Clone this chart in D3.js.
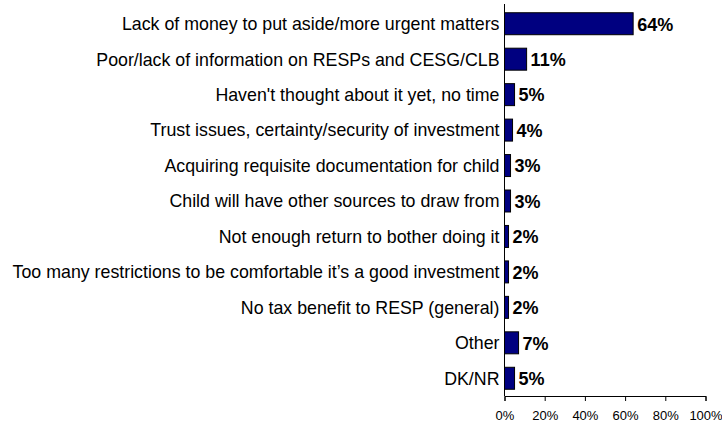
<!DOCTYPE html>
<html>
<head>
<meta charset="utf-8">
<script src="https://cdn.jsdelivr.net/npm/d3@7"></script>
<style>
  html, body { margin: 0; padding: 0; background: #fff; }
  svg { display: block; }
</style>
</head>
<body>
<svg id="chart" width="722" height="424"></svg>
<script>
// Reasons for not saving in an RESP (share of respondents)
const categories = [
  "Lack of money to put aside/more urgent matters",
  "Poor/lack of information on RESPs and CESG/CLB",
  "Haven't thought about it yet, no time",
  "Trust issues, certainty/security of investment",
  "Acquiring requisite documentation for child",
  "Child will have other sources to draw from",
  "Not enough return to bother doing it",
  "Too many restrictions to be comfortable it\u2019s a good investment",
  "No tax benefit to RESP (general)",
  "Other",
  "DK/NR"
];
const values = [64, 11, 5, 4, 3, 3, 2, 2, 2, 7, 5];
const tickValues = [0, 20, 40, 60, 80, 100];

const svg = d3.select("#chart");
const x0 = 504.5, x1 = 705.5, yTop = 5, yBottom = 396;

const x = d3.scaleLinear().domain([0, 100]).range([x0, x1]);
const y = d3.scaleBand().domain(categories).range([yTop + 1, yBottom])
  .paddingInner(0.38).paddingOuter(0.19);

// bars
svg.append("g").selectAll("rect")
  .data(categories)
  .join("rect")
  .attr("x", x(0))
  .attr("y", d => y(d))
  .attr("width", (d, i) => x(values[i]) - x(0))
  .attr("height", y.bandwidth())
  .attr("fill", "#000080")
  .attr("stroke", "#000000")
  .attr("stroke-width", 1);

// value labels
svg.append("g").selectAll("text")
  .data(categories)
  .join("text")
  .attr("x", (d, i) => x(values[i]) + 4)
  .attr("y", d => y(d) + y.bandwidth() / 2)
  .attr("dy", "0.38em")
  .attr("font-family", "Liberation Sans, Arial, sans-serif")
  .attr("font-weight", "bold")
  .attr("font-size", 18)
  .attr("fill", "#000")
  .text((d, i) => values[i] + "%");

// category labels
svg.append("g").selectAll("text")
  .data(categories)
  .join("text")
  .attr("x", x0 - 5)
  .attr("y", d => y(d) + y.bandwidth() / 2)
  .attr("dy", "0.36em")
  .attr("text-anchor", "end")
  .attr("font-family", "Liberation Sans, Arial, sans-serif")
  .attr("font-size", 17.8)
  .attr("fill", "#000")
  .text(d => d);

// vertical category axis line
svg.append("line")
  .attr("x1", x0).attr("x2", x0)
  .attr("y1", yTop - 1).attr("y2", yBottom)
  .attr("stroke", "#000").attr("stroke-width", 1);

// bottom value axis
const xAxis = d3.axisBottom(x)
  .tickValues(tickValues)
  .tickSize(5)
  .tickFormat(d => d + "%");
const gx = svg.append("g")
  .attr("transform", `translate(0,${yBottom})`)
  .call(xAxis);
gx.select(".domain").attr("stroke", "#000");
gx.selectAll(".tick line").attr("stroke", "#000");
gx.selectAll(".tick text")
  .attr("font-family", "Liberation Sans Narrow, Arial Narrow, sans-serif")
  .attr("font-size", 13)
  .attr("fill", "#000")
  .attr("dy", "1.2em");
</script>
</body>
</html>
